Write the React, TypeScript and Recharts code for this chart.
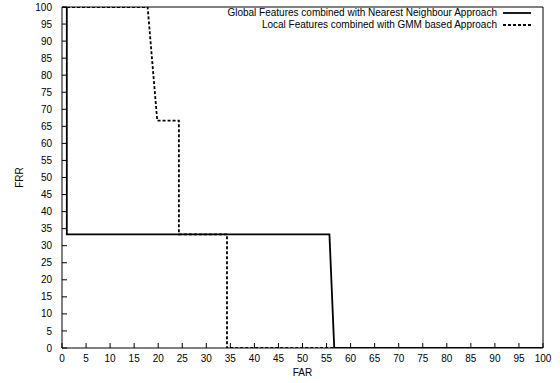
import React from "react";
import { LineChart, Line, XAxis, YAxis } from "recharts";

// FAR / FRR curves
const globalFar = [0, 1, 1, 55.6, 56.6, 100];
const globalFrr = [100, 100, 33.33, 33.33, 0, 0];

const localFar = [0, 17.8, 19.8, 24.3, 24.3, 34.3, 34.3, 100];
const localFrr = [100, 100, 66.67, 66.67, 33.33, 33.33, 0, 0];

const axisTicks = [0, 5, 10, 15, 20, 25, 30, 35, 40, 45, 50, 55, 60, 65, 70, 75, 80, 85, 90, 95, 100];

const globalLabel = "Global Features combined with Nearest Neighbour Approach";
const localLabel = "Local Features combined with GMM based Approach";

const FONT = "'Liberation Sans', Arial, sans-serif";
const DASH = "3 2";

const globalData = globalFar.map((far, i) => ({ far, frr: globalFrr[i] }));
const localData = localFar.map((far, i) => ({ far, frr: localFrr[i] }));

const tickStyle = { fontSize: 10, fontFamily: FONT, fill: "#000" };

// gnuplot-style key, drawn as an overlay so it doesn't shrink the plot area
const LegendBox = () => (
  <div
    style={{
      position: "absolute",
      top: 7,
      right: 25,
      fontFamily: FONT,
      fontSize: 10,
      color: "#000",
      lineHeight: "12px",
    }}
  >
    {[
      { label: globalLabel, dash: undefined },
      { label: localLabel, dash: DASH },
    ].map((row) => (
      <div key={row.label} style={{ display: "flex", justifyContent: "flex-end", alignItems: "center", height: 12 }}>
        <span style={{ whiteSpace: "nowrap" }}>{row.label}</span>
        <svg width={34} height={12} style={{ marginLeft: 4 }}>
          <line x1={2} x2={30} y1={6} y2={6} stroke="#000" strokeWidth={1.8} strokeDasharray={row.dash} />
        </svg>
      </div>
    ))}
  </div>
);

export default function App() {
  return (
    <div style={{ position: "absolute", left: 0, top: 0, width: 560, height: 383, background: "#fff" }}>
      <LineChart
        width={560}
        height={383}
        margin={{ top: 6, right: 16, bottom: 0, left: 0 }}
      >
        <XAxis
          xAxisId="bottom"
          dataKey="far"
          type="number"
          domain={[0, 100]}
          ticks={axisTicks}
          interval={0}
          allowDataOverflow
          height={35}
          tickSize={-5}
          tickMargin={12}
          tick={tickStyle}
          stroke="#000"
          label={{ value: "FAR", position: "insideBottom", offset: 7, style: { fontSize: 10, fontFamily: FONT, fill: "#000" } }}
        />
        <XAxis
          xAxisId="top"
          orientation="top"
          dataKey="far"
          type="number"
          domain={[0, 100]}
          ticks={axisTicks}
          interval={0}
          allowDataOverflow
          height={1}
          tickSize={-5}
          tick={false}
          stroke="#000"
        />
        <YAxis
          yAxisId="left"
          type="number"
          domain={[0, 100]}
          ticks={axisTicks}
          interval={0}
          allowDataOverflow
          width={62}
          tickSize={-5}
          tickMargin={15}
          tick={tickStyle}
          stroke="#000"
          label={{
            value: "FRR",
            angle: -90,
            position: "insideLeft",
            offset: 19,
            style: { fontSize: 10, fontFamily: FONT, fill: "#000", textAnchor: "middle" },
          }}
        />
        <YAxis
          yAxisId="right"
          orientation="right"
          type="number"
          domain={[0, 100]}
          ticks={axisTicks}
          interval={0}
          allowDataOverflow
          width={1}
          tickSize={-5}
          tick={false}
          stroke="#000"
        />
        {/* invisible series so the mirrored top/right axes get drawn */}
        <Line
          xAxisId="top"
          yAxisId="right"
          data={globalData}
          dataKey="frr"
          stroke="none"
          dot={false}
          activeDot={false}
          legendType="none"
          isAnimationActive={false}
        />
        <Line
          xAxisId="bottom"
          yAxisId="left"
          data={globalData}
          dataKey="frr"
          name={globalLabel}
          type="linear"
          stroke="#000"
          strokeWidth={1.8}
          dot={false}
          activeDot={false}
          isAnimationActive={false}
        />
        <Line
          xAxisId="bottom"
          yAxisId="left"
          data={localData}
          dataKey="frr"
          name={localLabel}
          type="linear"
          stroke="#000"
          strokeWidth={1.8}
          strokeDasharray={DASH}
          dot={false}
          activeDot={false}
          isAnimationActive={false}
        />
      </LineChart>
      <LegendBox />
    </div>
  );
}
